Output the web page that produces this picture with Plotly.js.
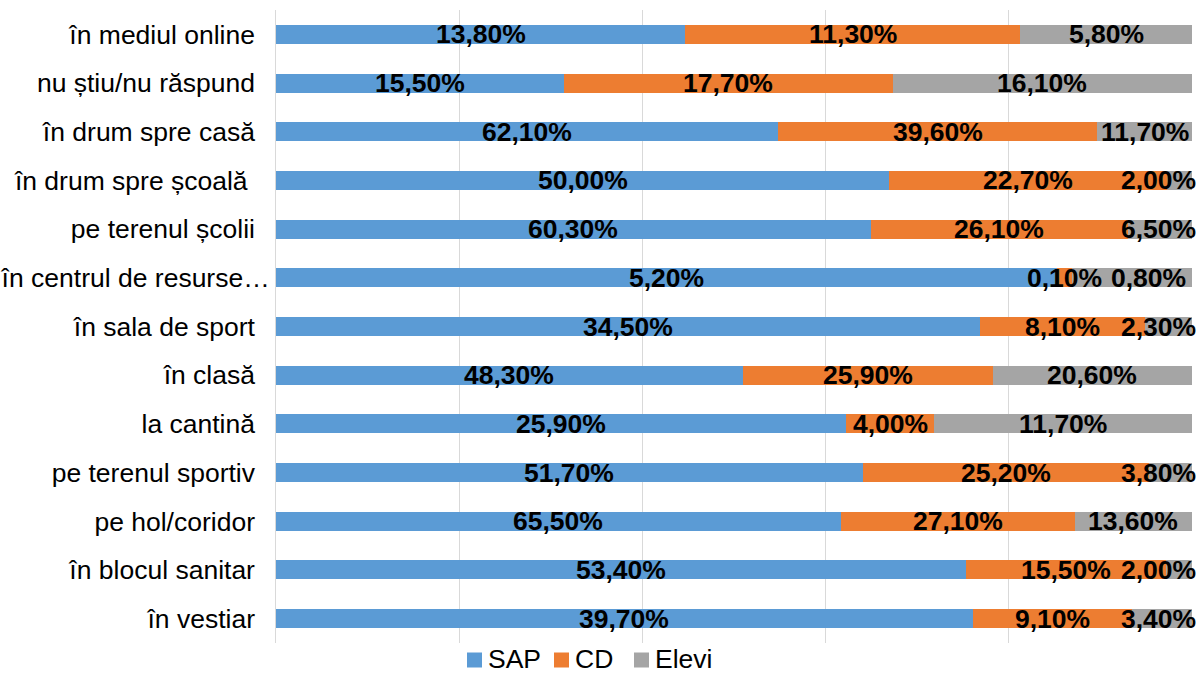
<!DOCTYPE html>
<html>
<head>
<meta charset="utf-8">
<script src="https://cdn.plot.ly/plotly-3.0.1.min.js"></script>
<style>html,body{margin:0;padding:0;background:#fff;}#chart{width:1201px;height:675px;}</style>
</head>
<body>
<div id="chart"></div>
<script>
const categories = [
  "în mediul online",
  "nu știu/nu răspund",
  "în drum spre casă",
  "în drum spre școală ",
  "pe terenul școlii",
  "în centrul de resurse…",
  "în sala de sport",
  "în clasă",
  "la cantină",
  "pe terenul sportiv",
  "pe hol/coridor",
  "în blocul sanitar",
  "în vestiar"
];
const sap   = [13.8, 15.5, 62.1, 50.0, 60.3, 5.2, 34.5, 48.3, 25.9, 51.7, 65.5, 53.4, 39.7];
const cd    = [11.3, 17.7, 39.6, 22.7, 26.1, 0.1, 8.1, 25.9, 4.0, 25.2, 27.1, 15.5, 9.1];
const elevi = [5.8, 16.1, 11.7, 2.0, 6.5, 0.8, 2.3, 20.6, 11.7, 3.8, 13.6, 2.0, 3.4];
const seriesNames = ["SAP", "CD", "Elevi"];
const seriesColors = ["#5B9BD5", "#ED7D31", "#A5A5A5"];

function fmt(v){ return v.toFixed(2).replace('.', ',') + '%'; }

const FONT = 'Liberation Sans, Arial, sans-serif';
const FS = 26.5;
const M = {l: 276, r: 9, t: 10, b: 32};
const W = 1201, H = 675;
const PLOT_W = W - M.l - M.r;
const PLOT_H = H - M.t - M.b;
const CHAR_W = 14.7;          // approx px per char of bold label

const series = [sap, cd, elevi];

const traces = series.map((vals, i) => ({
  type: 'bar',
  orientation: 'h',
  name: seriesNames[i],
  y: categories,
  x: vals,
  textposition: 'none',
  marker: {color: seriesColors[i], line: {width: 0}},
  hoverinfo: 'none'
}));

// data labels, centred on each normalised segment
const annotations = [];
categories.forEach((cat, r) => {
  const vals = series.map(s => s[r]);
  const total = vals.reduce((a, b) => a + b, 0);
  let start = 0;
  let prevRight = -Infinity;
  vals.forEach((v, s) => {
    const w = v / total * 100;
    const txt = fmt(v);
    const half = txt.length * CHAR_W / 2 / PLOT_W * 100;
    let c = start + w / 2;
    if (c - half < prevRight + 1.2) c = prevRight + 1.2 + half;
    if (c + half > 100.3) c = 100.3 - half;
    prevRight = c + half;
    annotations.push({
      x: c, y: cat, xref: 'x', yref: 'y',
      text: '<b>' + txt + '</b>',
      showarrow: false,
      xanchor: 'center', yanchor: 'middle',
      font: {family: FONT, size: FS, color: '#000'}
    });
    start += w;
  });
});

// legend drawn below the plot (keeps plot area at full height)
const legendX = [467, 554, 634];   // px positions of legend swatches
const legendY = 660;               // px centre of legend row
const px2x = px => (px - M.l) / PLOT_W;
const px2y = py => (H - M.b - py) / PLOT_H;
const shapes = [];
seriesNames.forEach((name, i) => {
  shapes.push({
    type: 'rect', xref: 'paper', yref: 'paper',
    x0: px2x(legendX[i]), x1: px2x(legendX[i] + 15),
    y0: px2y(legendY + 7.5), y1: px2y(legendY - 7.5),
    fillcolor: seriesColors[i], line: {width: 0}
  });
  annotations.push({
    x: px2x(legendX[i] + 19), y: px2y(legendY - 1), xref: 'paper', yref: 'paper',
    text: name, showarrow: false, xanchor: 'left', yanchor: 'middle',
    font: {family: FONT, size: FS, color: '#000'}
  });
});

const tickText = categories.map(c => c.endsWith('…') ? c : c.trimEnd() + (c.endsWith(' ') ? '\u00a0\u00a0\u00a0' : '\u00a0\u00a0'));

const layout = {
  width: W,
  height: H,
  barmode: 'stack',
  barnorm: 'percent',
  bargap: 0.61,
  margin: M,
  paper_bgcolor: '#fff',
  plot_bgcolor: '#fff',
  font: {family: FONT, size: FS, color: '#000'},
  xaxis: {
    range: [0, 100],
    dtick: 20,
    showticklabels: false,
    showgrid: true,
    gridcolor: '#D9D9D9',
    gridwidth: 1,
    zeroline: false,
    showline: false,
    automargin: false,
    fixedrange: true
  },
  yaxis: {
    autorange: 'reversed',
    showline: true,
    linecolor: '#D9D9D9',
    linewidth: 1,
    ticks: '',
    tickmode: 'array',
    tickvals: categories,
    ticktext: tickText,
    ticklabelstandoff: 0,
    automargin: false,
    tickfont: {family: FONT, size: FS, color: '#000'},
    fixedrange: true
  },
  annotations: annotations,
  shapes: shapes,
  showlegend: false
};

Plotly.newPlot('chart', traces, layout, {displayModeBar: false, staticPlot: true});
</script>
</body>
</html>
